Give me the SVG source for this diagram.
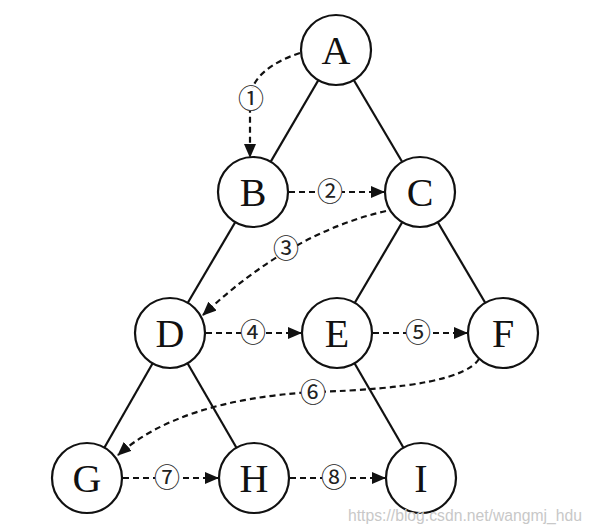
<svg xmlns="http://www.w3.org/2000/svg" width="592" height="528" viewBox="0 0 592 528">
<style>
.edge{stroke:#111;stroke-width:2.2;fill:none}
.dash{stroke:#111;stroke-width:2.2;fill:none;stroke-dasharray:6 4;marker-end:url(#ah)}
.node circle{fill:#fff;stroke:#111;stroke-width:2.2}
.node text{font-family:"Liberation Serif","Times New Roman",serif;font-size:40px;text-anchor:middle;fill:#111}
.lbl circle{fill:#fff;stroke:none}
.lbl text{font-family:"DejaVu Serif","Noto Sans CJK SC",serif;font-size:26px;text-anchor:middle;fill:#222}
.wm{font-family:"Liberation Sans",Arial,sans-serif;font-size:16px;fill:#c8c8c8}
</style>
<defs>
<marker id="ah" markerUnits="userSpaceOnUse" markerWidth="14" markerHeight="12" refX="13" refY="6" orient="auto">
<path d="M0,0 L14,6 L0,12 z" fill="#111"/>
</marker>
</defs>
<rect width="592" height="528" fill="#fff"/>
<g id="connectors">
<line class="edge" x1="336" y1="50" x2="253" y2="192"/>
<line class="edge" x1="336" y1="50" x2="420" y2="192"/>
<line class="edge" x1="253" y1="192" x2="170" y2="333"/>
<line class="edge" x1="420" y1="192" x2="337" y2="333"/>
<line class="edge" x1="420" y1="192" x2="503" y2="333"/>
<line class="edge" x1="170" y1="333" x2="87" y2="478"/>
<line class="edge" x1="170" y1="333" x2="254" y2="478"/>
<line class="edge" x1="337" y1="333" x2="421" y2="478"/>
<path class="dash" d="M300,53 C272,62 250,78 250,100 L250,157"/>
<path class="dash" d="M289,192 L384,192"/>
<path class="dash" d="M386,211 Q290,233 203,315"/>
<path class="dash" d="M206,333 L301,333"/>
<path class="dash" d="M373,333 L467,333"/>
<path class="dash" d="M479,359 Q460,388 313,392 Q180,400 118,455"/>
<path class="dash" d="M123,478 L218,478"/>
<path class="dash" d="M290,478 L385,478"/>
<g class="lbl"><circle cx="251" cy="99" r="12"/><text x="251" y="108">①</text></g>
<g class="lbl"><circle cx="330" cy="192" r="12"/><text x="330" y="201">②</text></g>
<g class="lbl"><circle cx="286" cy="249" r="12"/><text x="286" y="258">③</text></g>
<g class="lbl"><circle cx="253" cy="333" r="12"/><text x="253" y="342">④</text></g>
<g class="lbl"><circle cx="418" cy="333" r="12"/><text x="418" y="342">⑤</text></g>
<g class="lbl"><circle cx="313" cy="393" r="12"/><text x="313" y="402">⑥</text></g>
<g class="lbl"><circle cx="167" cy="478" r="12"/><text x="167" y="487">⑦</text></g>
<g class="lbl"><circle cx="334" cy="478" r="12"/><text x="334" y="487">⑧</text></g>
</g>
<g id="A" class="node"><circle cx="336" cy="50" r="35"/><text x="336" y="64">A</text></g>
<g id="B" class="node"><circle cx="253" cy="192" r="35"/><text x="253" y="206">B</text></g>
<g id="C" class="node"><circle cx="420" cy="192" r="35"/><text x="420" y="206">C</text></g>
<g id="D" class="node"><circle cx="170" cy="333" r="35"/><text x="170" y="347">D</text></g>
<g id="E" class="node"><circle cx="337" cy="333" r="35"/><text x="337" y="347">E</text></g>
<g id="F" class="node"><circle cx="503" cy="333" r="35"/><text x="503" y="347">F</text></g>
<g id="G" class="node"><circle cx="87" cy="478" r="35"/><text x="87" y="492">G</text></g>
<g id="H" class="node"><circle cx="254" cy="478" r="35"/><text x="254" y="492">H</text></g>
<g id="I" class="node"><circle cx="421" cy="478" r="35"/><text x="421" y="492">I</text></g>
<text class="wm" x="348" y="521" textLength="234" lengthAdjust="spacingAndGlyphs">https://blog.csdn.net/wangmj_hdu</text>
</svg>
